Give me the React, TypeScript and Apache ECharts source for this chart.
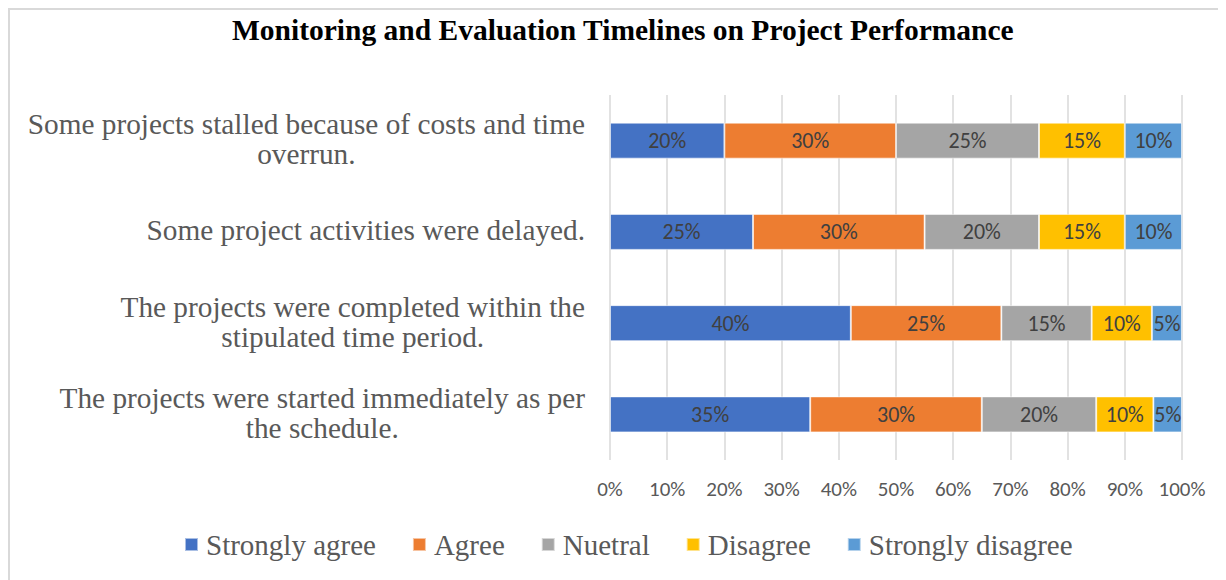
import React, { useEffect, useRef } from "react";
import * as echarts from "echarts";

const chartTitle = "Monitoring and Evaluation Timelines on Project Performance";
const categories = [
  "The projects were started immediately as per\nthe schedule.",
  "The projects were completed within the\nstipulated time period.",
  "Some project activities were delayed.",
  "Some projects stalled because of costs and time\noverrun.",
];
const seriesNames = ["Strongly agree", "Agree", "Nuetral", "Disagree", "Strongly disagree"];
const stronglyAgree = [35, 40, 25, 20];
const agree = [30, 25, 30, 30];
const neutral = [20, 15, 20, 25];
const disagree = [10, 10, 15, 15];
const stronglyDisagree = [5, 5, 10, 10];
const seriesValues = [stronglyAgree, agree, neutral, disagree, stronglyDisagree];
const colors = ["#4472C4", "#ED7D31", "#A5A5A5", "#FFC000", "#5B9BD5"];

const SERIF = "'Liberation Serif', 'Times New Roman', serif";
const SANS = "Carlito, Calibri, Roboto, sans-serif";

export default function App() {
  const ref = useRef<HTMLDivElement>(null);
  useEffect(() => {
    if (!ref.current) return;
    const chart = echarts.init(ref.current, undefined, { renderer: "svg" });
    const rowTotals = categories.map((_, i) =>
      seriesValues.reduce((s, arr) => s + arr[i], 0)
    );
    chart.setOption({
      animation: false,
      backgroundColor: "#ffffff",
      title: {
        text: chartTitle,
        left: 217,
        top: 0,
        textStyle: {
          fontFamily: SERIF,
          fontSize: 29.5,
          fontWeight: "bold",
          color: "#000000",
        },
      },
      legend: {
        data: seriesNames,
        top: 515,
        left: 169,
        icon: "rect",
        itemWidth: 13,
        itemHeight: 13,
        itemGap: 36,
        textStyle: {
          fontFamily: SERIF,
          fontSize: 29,
          color: "#595959",
          padding: [0, 0, 0, 3],
        },
      },
      grid: {
        left: 600,
        top: 85,
        width: 572,
        height: 365,
        containLabel: false,
      },
      xAxis: {
        type: "value",
        min: 0,
        max: 100,
        interval: 10,
        axisLine: { show: false },
        axisTick: { show: false },
        splitLine: { show: true, lineStyle: { color: "#d9d9d9", width: 1.5 } },
        axisLabel: {
          formatter: "{value}%",
          fontFamily: SANS,
          fontSize: 21,
          color: "#595959",
          margin: 18,
        },
      },
      yAxis: {
        type: "category",
        data: categories,
        axisLine: { show: false },
        axisTick: { show: false },
        axisLabel: {
          margin: 25,
          formatter: (v: string) =>
            v
              .split("\n")
              .map((l) => `{c|${l}}`)
              .join("\n"),
          rich: {
            c: {
              align: "center",
              fontFamily: SERIF,
              fontSize: 29.3,
              lineHeight: 30,
              color: "#595959",
              padding: [0, 0, 3, 0],
            },
          },
        },
      },
      series: seriesNames.map((name, si) => ({
        name,
        type: "bar",
        stack: "total",
        barWidth: 36,
        itemStyle: {
          color: colors[si],
          borderColor: "rgba(255,255,255,0.55)",
          borderWidth: 1,
        },
        label: {
          show: true,
          position: "inside",
          fontFamily: SANS,
          fontSize: 22,
          color: "#404040",
          formatter: (p: any) => `${seriesValues[si][p.dataIndex]}%`,
        },
        data: seriesValues[si].map((v, i) => (v / rowTotals[i]) * 100),
      })),
    });
    return () => chart.dispose();
  }, []);
  return (
    <div
      style={{
        width: 1216,
        height: 570,
        borderTop: "2px solid #d9d9d9",
        borderLeft: "2px solid #d9d9d9",
        background: "#fff",
      }}
    >
      <div ref={ref} style={{ width: 1216, height: 570 }} />
    </div>
  );
}
